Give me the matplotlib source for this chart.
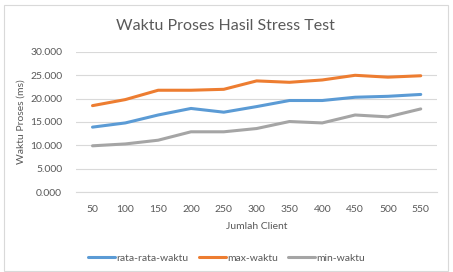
import matplotlib.pyplot as plt
from matplotlib.ticker import FuncFormatter

clients = [50, 100, 150, 200, 250, 300, 350, 400, 450, 500, 550]
rata_rata = [13900, 14800, 16500, 17900, 17100, 18300, 19600, 19600, 20300, 20500, 20900]
max_waktu = [18500, 19800, 21800, 21800, 22000, 23800, 23500, 24000, 25000, 24600, 24900]
min_waktu = [9900, 10300, 11100, 12900, 12900, 13600, 15100, 14800, 16500, 16100, 17800]

plt.rcParams['font.family'] = ['Lato', 'DejaVu Sans']
txt = '#595959'

fig = plt.figure(figsize=(4.53, 2.72), dpi=100)
fig.patch.set_facecolor('white')
ax = fig.add_axes([0.168, 0.294, 0.797, 0.515])

x = list(range(len(clients)))
ax.plot(x, rata_rata, color='#5B9BD5', lw=2.2, label='rata-rata-waktu', solid_capstyle='round')
ax.plot(x, max_waktu, color='#ED7D31', lw=2.2, label='max-waktu', solid_capstyle='round')
ax.plot(x, min_waktu, color='#A5A5A5', lw=2.2, label='min-waktu', solid_capstyle='round')

ax.set_xlim(-0.5, len(clients) - 0.5)
ax.set_ylim(0, 30000)
ax.set_yticks(range(0, 30001, 5000))
ax.yaxis.set_major_formatter(FuncFormatter(lambda v, p: '{:,.0f}'.format(v).replace(',', '.') if v else '0.000'))
ax.set_xticks(x)
ax.set_xticklabels([str(c) for c in clients])
ax.grid(axis='y', color='#D9D9D9', lw=0.8)
ax.set_axisbelow(True)
for s in ['top', 'right', 'left']:
    ax.spines[s].set_visible(False)
ax.spines['bottom'].set_color('#D9D9D9')
ax.tick_params(length=0, labelsize=7.5, colors=txt)
ax.tick_params(axis='x', pad=9)
ax.tick_params(axis='y', pad=10)

ax.set_xlabel('Jumlah Client', fontsize=7.5, color=txt, labelpad=6)
ax.set_ylabel('Waktu Proses (ms)', fontsize=7.5, color=txt, labelpad=3)
fig.text(0.497, 0.905, 'Waktu Proses Hasil Stress Test', ha='center', va='center',
         fontsize=11.5, color=txt)

leg = fig.legend(loc='center', bbox_to_anchor=(0.5, 0.05), ncol=3, frameon=False,
                 fontsize=7.5, handlelength=2.6, handletextpad=0.1, columnspacing=1.0)
for t in leg.get_texts():
    t.set_color(txt)

fig.add_artist(plt.Rectangle((0.008, 0.005), 0.98, 0.975, transform=fig.transFigure,
                             fill=False, ec='#D9D9D9', lw=0.8))

fig.savefig('out.png', dpi=100)
